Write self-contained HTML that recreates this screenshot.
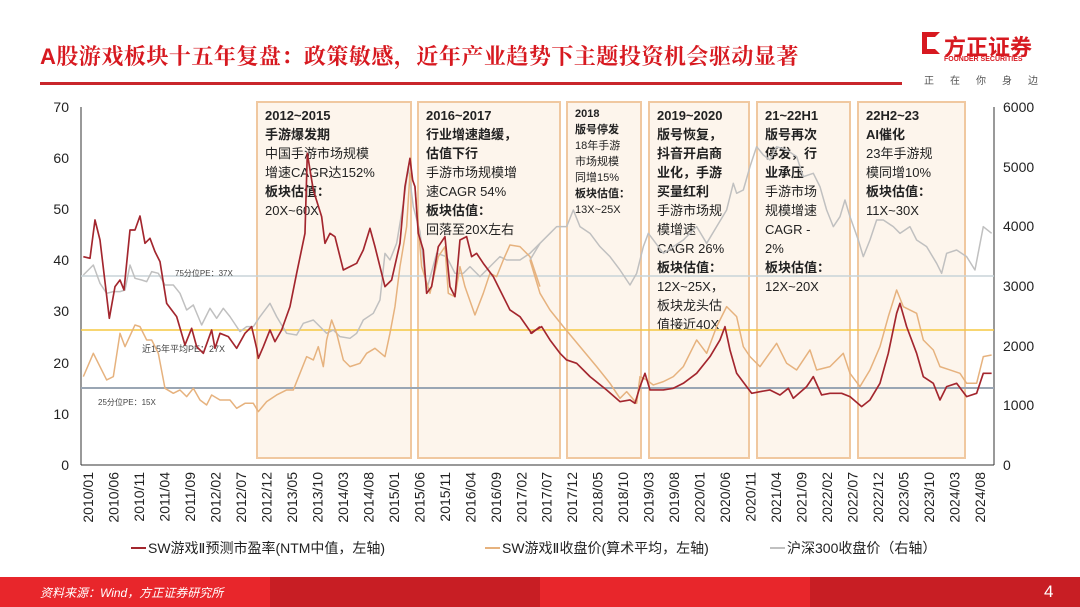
<!DOCTYPE html><html><head><meta charset="utf-8"><style>
body{margin:0;width:1080px;height:607px;overflow:hidden;background:#fff;font-family:"Liberation Sans","Noto Sans CJK SC",sans-serif;position:relative}
.t{position:absolute;left:40px;top:40px;font-size:22px;font-weight:bold;color:#d71920;font-family:"Liberation Sans","Noto Serif CJK SC",serif;letter-spacing:0.5px}
.box{position:absolute;top:101px;height:358px;background:rgba(250,225,200,0.35);border:2px solid #f0c8a0;box-sizing:border-box;padding:3px 0 0 7px;font-size:13px;line-height:19px;color:#222}
.box b{font-weight:bold}
</style></head><body>
<div class="t">A股游戏板块十五年复盘：政策敏感，近年产业趋势下主题投资机会驱动显著</div>
<div style="position:absolute;left:40px;top:82px;width:862px;height:3px;background:#c9262b"></div>
<div style="position:absolute;left:922px;top:32px;width:18px;height:22px;border:5px solid #d71920;border-right-color:transparent;box-sizing:border-box"></div>
<div style="position:absolute;left:944px;top:30px;font-size:22px;font-weight:bold;color:#d71920">方正证券</div>
<div style="position:absolute;left:944px;top:56px;font-size:7px;color:#d71920;font-weight:bold">FOUNDER SECURITIES</div>
<div style="position:absolute;left:924px;top:72px;font-size:10px;color:#555;letter-spacing:16px">正在你身边</div>

<div class="box" style="left:256px;width:156px"><b>2012~2015<br>手游爆发期</b><br>中国手游市场规模<br>增速CAGR达152%<br><b>板块估值：</b><br>20X~60X</div>
<div class="box" style="left:417px;width:144px"><b>2016~2017<br>行业增速趋缓，<br>估值下行</b><br>手游市场规模增<br>速CAGR 54%<br><b>板块估值：</b><br>回落至20X左右</div>
<div class="box" style="left:566px;width:76px;font-size:11px;line-height:16px"><b>2018<br>版号停发</b><br>18年手游<br>市场规模<br>同增15%<br><b>板块估值：</b><br>13X~25X</div>
<div class="box" style="left:648px;width:102px"><b>2019~2020<br>版号恢复，<br>抖音开启商<br>业化，手游<br>买量红利</b><br>手游市场规<br>模增速<br>CAGR 26%<br><b>板块估值：</b><br>12X~25X，<br>板块龙头估<br>值接近40X</div>
<div class="box" style="left:756px;width:95px"><b>21~22H1<br>版号再次<br>停发，行<br>业承压</b><br>手游市场<br>规模增速<br>CAGR -<br>2%<br><b>板块估值：</b><br>12X~20X</div>
<div class="box" style="left:857px;width:109px"><b>22H2~23<br>AI催化</b><br>23年手游规<br>模同增10%<br><b>板块估值：</b><br>11X~30X</div>

<svg width="1080" height="607" style="position:absolute;left:0;top:0" font-family="Liberation Sans" font-size="14">
<g stroke="#333" stroke-width="1" fill="none">
<line x1="81" y1="107" x2="81" y2="465"/><line x1="81" y1="465" x2="994" y2="465"/><line x1="994" y1="107" x2="994" y2="465"/>
</g>
<g fill="#222" text-anchor="end">
<text x="69" y="112">70</text><text x="69" y="163">60</text><text x="69" y="214">50</text><text x="69" y="265">40</text><text x="69" y="316">30</text><text x="69" y="368">20</text><text x="69" y="419">10</text><text x="69" y="470">0</text>
</g>
<g fill="#222">
<text x="1003" y="112">6000</text><text x="1003" y="172">5000</text><text x="1003" y="231">4000</text><text x="1003" y="291">3000</text><text x="1003" y="351">2000</text><text x="1003" y="410">1000</text><text x="1003" y="470">0</text>
</g>
<line x1="81" y1="276" x2="994" y2="276" stroke="#c8d4d8" stroke-width="1.5"/>
<line x1="81" y1="330" x2="994" y2="330" stroke="#f5c842" stroke-width="1.5"/>
<line x1="81" y1="388" x2="994" y2="388" stroke="#9aa6b4" stroke-width="2"/>
<text x="175" y="276" font-size="8" fill="#444">75分位PE：37X</text>
<text x="142" y="352" font-size="9" fill="#444">近15年平均PE：27X</text>
<text x="98" y="405" font-size="8" fill="#444">25分位PE：15X</text>
<g fill="none" stroke-width="1.5" stroke-linejoin="round">
<g transform="translate(60,100) scale(0.3333)">
<polyline stroke="#c0c0c0" stroke-width="4.5" points="70,525 100,495 120,550 140,580 160,575 180,575 195,570 210,495 225,535 245,540 260,545 275,515 295,520 315,555 340,555 360,580 380,630 400,615 425,675 450,625 470,655 490,625 510,650 540,695 560,680 580,680 600,650 630,610 650,650 680,700 710,705 730,670 760,660 780,680 800,700 820,690 840,710 870,715 890,700 910,660 940,640 960,600 975,460 990,480 1010,430 1030,310 1045,200 1060,320 1080,395 1100,570 1130,460 1160,470 1185,520 1210,520 1230,500 1260,530 1290,500 1320,470 1340,480 1380,480 1410,460 1440,430"/>
<polyline stroke="#e6b27e" stroke-width="4.5" points="70,830 100,760 140,840 160,830 180,700 195,740 225,675 240,680 260,720 275,720 295,760 315,865 340,880 360,870 380,890 400,865 420,900 440,915 455,885 480,900 510,900 530,925 555,910 580,910 595,935 620,905 650,885 680,870 700,870 720,820 740,770 760,780 775,740 790,800 800,720 815,660 830,700 850,780 870,800 900,790 920,760 945,745 975,770 990,700 1005,620 1020,500 1040,380 1050,220 1065,260 1085,500 1110,580 1135,470 1155,440 1165,580 1185,590 1200,500 1215,560 1245,645 1270,580 1290,520 1310,530 1330,480 1350,435 1380,440 1410,470 1440,560"/>
<polyline stroke="#a3262e" stroke-width="5" points="70,470 90,475 105,360 120,420 148,655 165,560 180,540 192,570 210,390 225,390 240,348 255,430 270,415 285,455 300,485 320,610 350,650 375,735 395,685 410,740 430,760 455,690 465,745 480,700 505,710 530,745 555,700 575,680 590,745 595,775 610,740 630,690 645,725 665,690 690,620 710,520 735,400 742,160 760,270 785,350 795,430 810,400 825,410 850,510 870,500 890,490 910,450 930,385 945,440 975,560 995,540 1020,430 1035,260 1050,175 1058,240 1065,260 1075,400 1090,450 1100,580 1115,560 1135,440 1155,410 1170,560 1185,590 1200,420 1220,410 1235,470 1250,460 1270,490 1300,530 1320,570 1350,630 1380,650 1415,700 1440,680"/>
</g>
<g transform="translate(530,100) scale(0.3333)">
<polyline stroke="#c0c0c0" stroke-width="4.5" points="0,480 30,430 60,400 80,380 110,380 130,330 150,380 180,400 210,440 240,470 270,510 300,555 320,520 340,440 355,400 370,420 400,460 430,440 460,420 500,380 530,430 560,380 590,330 610,250 620,280 640,270 660,200 680,140 700,165 720,180 740,140 770,150 800,170 820,230 850,220 870,260 890,330 910,380 930,350 945,300 960,350 985,420 1000,470 1020,420 1040,360 1060,360 1090,380 1110,400 1140,380 1160,420 1190,440 1220,490 1235,520 1250,460 1280,450 1310,470 1335,510 1360,380 1385,400"/>
<polyline stroke="#e6b27e" stroke-width="4.5" points="0,480 30,580 60,630 100,680 150,740 200,800 240,850 270,895 290,875 320,910 330,830 350,840 370,855 400,845 430,830 460,800 500,720 530,760 560,680 590,620 620,650 640,740 660,770 690,800 740,730 770,790 800,810 840,750 860,810 900,800 940,760 960,820 990,860 1020,810 1050,740 1075,650 1100,570 1120,620 1160,640 1180,720 1210,750 1230,800 1260,810 1290,820 1310,850 1340,850 1360,770 1385,765"/>
<polyline stroke="#a3262e" stroke-width="5" points="0,700 35,680 60,720 90,760 110,780 140,790 180,830 230,870 270,905 300,900 315,910 330,860 345,820 360,870 400,870 430,865 460,850 500,820 540,770 570,720 585,680 600,750 620,820 650,860 665,880 690,875 720,870 750,885 775,865 790,895 830,860 850,830 875,885 900,880 935,880 960,890 995,920 1020,900 1050,850 1075,760 1100,640 1110,610 1130,680 1160,760 1180,830 1210,850 1230,900 1250,860 1280,850 1310,890 1340,880 1360,820 1385,820"/>
</g>
</g>
<g font-size="14" fill="#222" text-anchor="end" id="xl"></g>
<g font-size="14" fill="#222">
<line x1="131" y1="548" x2="146" y2="548" stroke="#a3262e" stroke-width="2"/><text x="148" y="553">SW游戏Ⅱ预测市盈率(NTM中值，左轴)</text>
<line x1="485" y1="548" x2="500" y2="548" stroke="#e6b27e" stroke-width="2"/><text x="502" y="553">SW游戏Ⅱ收盘价(算术平均，左轴)</text>
<line x1="770" y1="548" x2="785" y2="548" stroke="#c0c0c0" stroke-width="2"/><text x="787" y="553">沪深300收盘价（右轴）</text>
</g>
</svg>
<div style="position:absolute;left:0;top:577px;width:270px;height:30px;background:#e8262b"></div>
<div style="position:absolute;left:270px;top:577px;width:270px;height:30px;background:#c81e24"></div>
<div style="position:absolute;left:540px;top:577px;width:270px;height:30px;background:#e8262b"></div>
<div style="position:absolute;left:810px;top:577px;width:270px;height:30px;background:#c81e24"></div>
<div style="position:absolute;left:40px;top:584px;font-size:12px;color:#fff;font-style:italic">资料来源：Wind，方正证券研究所</div>
<div style="position:absolute;left:1044px;top:582px;font-size:17px;color:#fff">4</div>
<script>
var L="2010/01 2010/06 2010/11 2011/04 2011/09 2012/02 2012/07 2012/12 2013/05 2013/10 2014/03 2014/08 2015/01 2015/06 2015/11 2016/04 2016/09 2017/02 2017/07 2017/12 2018/05 2018/10 2019/03 2019/08 2020/01 2020/06 2020/11 2021/04 2021/09 2022/02 2022/07 2022/12 2023/05 2023/10 2024/03 2024/08".split(" ");
var g=document.getElementById("xl"),s="";
for(var i=0;i<L.length;i++){var x=93+i*(985-93)/(L.length-1);s+='<text transform="translate('+x+',472) rotate(-90)">'+L[i]+'</text>';}
g.innerHTML=s;
</script>
</body></html>
